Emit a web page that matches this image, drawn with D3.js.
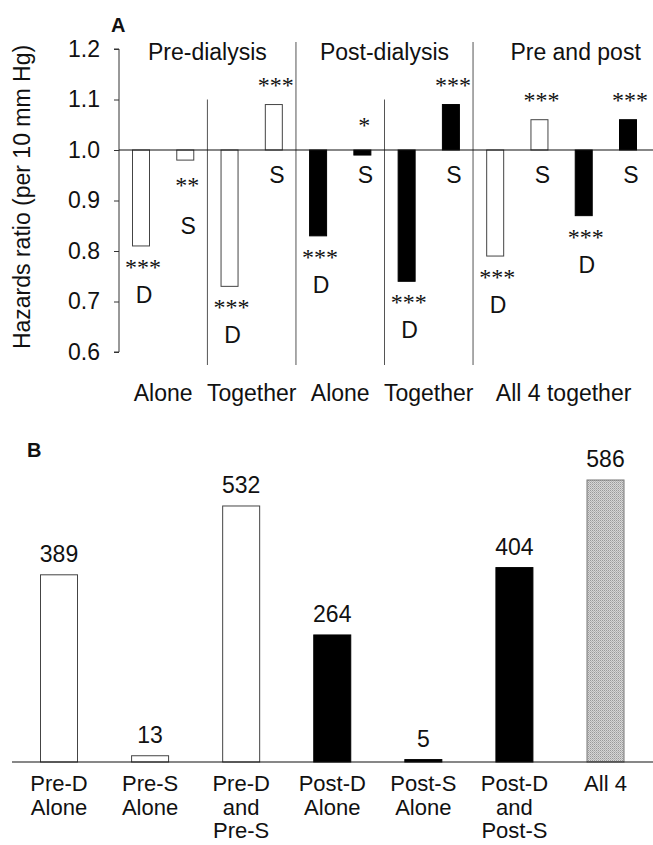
<!DOCTYPE html>
<html>
<head>
<meta charset="utf-8">
<script src="https://cdn.jsdelivr.net/npm/d3@7"></script>
<style>
  html, body { margin: 0; padding: 0; background: #fff; }
  svg { display: block; }
  text { font-family: "Liberation Sans", Arial, sans-serif; fill: #111; }
</style>
</head>
<body>
<div id="chart"></div>
<script>
'use strict';
// ---- Panel A data ----
const aLetters = ["D", "S", "D", "S", "D", "S", "D", "S", "D", "S", "D", "S"];
const aValues  = [0.81, 0.98, 0.73, 1.09, 0.83, 0.99, 0.74, 1.09, 0.79, 1.06, 0.87, 1.06];
const aFills   = ["open", "open", "open", "open", "solid", "solid", "solid", "solid", "open", "open", "solid", "solid"];
const aStars   = ["***", "**", "***", "***", "***", "*", "***", "***", "***", "***", "***", "***"];
const aTicks   = [0.6, 0.7, 0.8, 0.9, 1.0, 1.1, 1.2];
const aGroups  = ["Pre-dialysis", "Post-dialysis", "Pre and post"];
const aSubgroups = ["Alone", "Together", "Alone", "Together", "All 4 together"];

// ---- Panel B data ----
const bCategories = [["Pre-D", "Alone"], ["Pre-S", "Alone"], ["Pre-D", "and", "Pre-S"],
                     ["Post-D", "Alone"], ["Post-S", "Alone"], ["Post-D", "and", "Post-S"], ["All 4"]];
const bValues = [389, 13, 532, 264, 5, 404, 586];
const bFills  = ["open", "open", "open", "solid", "solid", "solid", "gray"];

(function () {
  const W = 653, H = 845;
  const svg = d3.select("#chart").append("svg")
    .attr("width", W).attr("height", H);

  // stippled grey fill for the "All 4" bar
  const defs = svg.append("defs");
  const pat = defs.append("pattern").attr("id", "stipple")
    .attr("patternUnits", "userSpaceOnUse").attr("width", 2).attr("height", 2);
  pat.append("rect").attr("width", 2).attr("height", 2).attr("fill", "#d6d6d6");
  pat.append("rect").attr("width", 1).attr("height", 1).attr("fill", "#9a9a9a");
  pat.append("rect").attr("x", 1).attr("y", 1).attr("width", 1).attr("height", 1).attr("fill", "#b4b4b4");

  const fillOf = f => f === "solid" ? "#000" : (f === "gray" ? "url(#stipple)" : "#fff");
  const strokeOf = f => f === "solid" ? "#000" : (f === "gray" ? "#777" : "#444");

  // ================= Panel A =================
  const axisX = 119, rightA = 653;
  const yA = d3.scaleLinear().domain([0.6, 1.2]).range([352, 49]);
  const xA = d3.scalePoint().domain(d3.range(aValues.length)).range([141, 628]);
  const barW = 17;
  const y1 = yA(1.0);

  svg.append("text").attr("x", 111).attr("y", 32)
    .style("font-weight", "bold").style("font-size", "20px").text("A");

  // y axis
  const axA = svg.append("g").attr("transform", `translate(${axisX},0)`)
    .call(d3.axisLeft(yA).tickValues(aTicks).tickFormat(d3.format(".1f")).tickSize(5).tickPadding(14));
  axA.select(".domain").attr("stroke", "#333").attr("d", `M-5,${yA(1.2)}H0V${yA(0.6)}H-5`);
  axA.selectAll(".tick line").attr("stroke", "#333");
  axA.selectAll(".tick text").style("font-size", "23px")
    .style("font-family", "'Liberation Sans', Arial, sans-serif").attr("fill", "#111");

  svg.append("text")
    .attr("transform", `translate(30,197) rotate(-90)`)
    .attr("text-anchor", "middle").style("font-size", "23px")
    .text("Hazards ratio (per 10 mm Hg)");

  // separators: short ones inside a group, tall ones between groups
  const step = xA.step();
  [1, 3, 5, 7].forEach(i => {
    const x = xA(i) + step / 2;
    const tall = i === 3 || i === 7;
    svg.append("line")
      .attr("x1", x).attr("x2", x)
      .attr("y1", tall ? 42 : yA(1.1)).attr("y2", 365)
      .attr("stroke", "#555").attr("stroke-width", 1);
  });

  // bars
  svg.append("g").selectAll("rect").data(aValues).join("rect")
    .attr("x", (d, i) => xA(i) - barW / 2)
    .attr("y", d => Math.min(yA(d), y1))
    .attr("width", barW)
    .attr("height", d => Math.abs(yA(d) - y1))
    .attr("fill", (d, i) => fillOf(aFills[i]))
    .attr("stroke", (d, i) => strokeOf(aFills[i]))
    .attr("stroke-width", 1);

  // reference line at 1.0
  svg.append("line").attr("x1", axisX).attr("x2", rightA)
    .attr("y1", y1).attr("y2", y1).attr("stroke", "#111").attr("stroke-width", 1.2);

  // stars and D/S letters
  const starText = (x, cy, s) => svg.append("text")
    .attr("x", x + 2).attr("y", cy + 12).attr("text-anchor", "middle")
    .style("font-family", "'Liberation Serif', 'Times New Roman', serif")
    .style("font-size", "24px").attr("fill", "#444").text(s);
  const letterText = (x, cy, s) => svg.append("text")
    .attr("x", x + 3).attr("y", cy + 8).attr("text-anchor", "middle")
    .style("font-size", "23px").text(s);

  aValues.forEach((v, i) => {
    const x = xA(i);
    const bottom = Math.max(yA(v), y1);
    const top = Math.min(yA(v), y1);
    if (aLetters[i] === "D") {
      starText(x, bottom + 17, aStars[i]);
      letterText(x, bottom + 49, aLetters[i]);
    } else if (bottom - y1 > 6) {
      starText(x, bottom + 21, aStars[i]);
      letterText(x, bottom + 66, aLetters[i]);
    } else {
      starText(x, top - (top === y1 ? 29 : 24), aStars[i]);
      letterText(x, y1 + 25, aLetters[i]);
    }
  });

  // group headers and subgroup labels
  aGroups.forEach((g, k) => {
    const cx = (xA(k * 4) + xA(k * 4 + 3)) / 2 + (k === 2 ? 14 : 0);
    svg.append("text").attr("x", cx).attr("y", 60)
      .attr("text-anchor", "middle").style("font-size", "23px").text(g);
  });
  aSubgroups.forEach((s, k) => {
    const cx = k < 4 ? (xA(k * 2) + xA(k * 2 + 1)) / 2 : (xA(8) + xA(11)) / 2 + 2;
    svg.append("text").attr("x", cx).attr("y", 401)
      .attr("text-anchor", "middle").style("font-size", "23px").text(s);
  });

  // ================= Panel B =================
  const baseB = 762;
  const yB = d3.scaleLinear().domain([0, 586]).range([baseB, 480]);
  const xB = d3.scalePoint().domain(d3.range(bValues.length)).range([59, 605.5]);
  const barWB = 37;

  svg.append("text").attr("x", 27).attr("y", 457)
    .style("font-weight", "bold").style("font-size", "20px").text("B");

  svg.append("g").selectAll("rect").data(bValues).join("rect")
    .attr("x", (d, i) => xB(i) - barWB / 2)
    .attr("y", d => yB(d))
    .attr("width", barWB)
    .attr("height", d => baseB - yB(d))
    .attr("fill", (d, i) => fillOf(bFills[i]))
    .attr("stroke", (d, i) => strokeOf(bFills[i]))
    .attr("stroke-width", 1);

  svg.append("line").attr("x1", 12).attr("x2", 653)
    .attr("y1", baseB).attr("y2", baseB).attr("stroke", "#111").attr("stroke-width", 1.2);

  svg.append("g").selectAll("text").data(bValues).join("text")
    .attr("x", (d, i) => xB(i))
    .attr("y", d => yB(d) - 13)
    .attr("text-anchor", "middle").style("font-size", "23px")
    .text(d => d);

  bCategories.forEach((lines, i) => {
    const t = svg.append("text").attr("text-anchor", "middle").style("font-size", "22px");
    lines.forEach((ln, j) => {
      t.append("tspan").attr("x", xB(i)).attr("y", 791 + j * 23.5).text(ln);
    });
  });
})();
</script>
</body>
</html>
